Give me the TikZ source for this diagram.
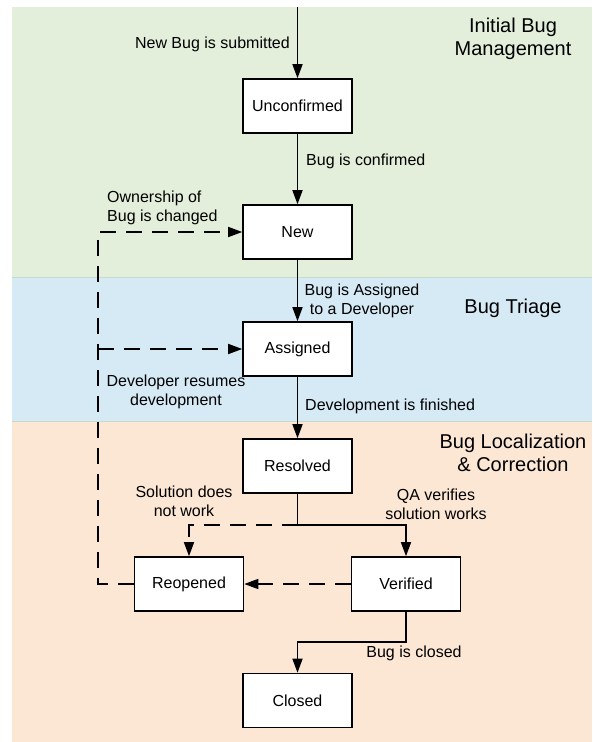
\documentclass[tikz,border=0pt]{standalone}
\usepackage{fontspec}
\setmainfont{Liberation Sans}
\usetikzlibrary{arrows.meta}
\definecolor{bandgreen}{RGB}{227,239,218}
\definecolor{bandblue}{RGB}{214,234,246}
\definecolor{bandorange}{RGB}{251,231,212}
\definecolor{bandedge}{RGB}{195,220,205}
\begin{document}
\begin{tikzpicture}[x=1pt,y=-1pt,
  state/.style={draw, line width=1.6pt, fill=white, minimum width=109pt, minimum height=54pt, inner sep=0pt, font=\fontsize{16}{18}\selectfont},
  lbl/.style={font=\fontsize{16}{19}\selectfont, inner sep=0pt, align=center},
  ttl/.style={font=\fontsize{20}{23}\selectfont, inner sep=0pt, align=center},
  flow/.style={line width=1.6pt, -{Triangle[length=14pt,width=10pt]}},
  loopback/.style={flow, dash pattern=on 16pt off 10pt}]
\useasboundingbox (0,0) rectangle (592,742);
\fill[bandgreen] (12,7) rectangle (592,277);
\fill[bandblue] (12,277) rectangle (592,421);
\fill[bandorange] (12,421) rectangle (592,742);
\draw[bandedge, line width=0.8pt] (12,277) -- (592,277);
\draw[bandedge, line width=0.8pt] (12,421) -- (592,421);

\node[ttl] (t1) at (513,38.5) {Initial Bug\\Management};
\node[ttl] (t2) at (513,308) {Bug Triage};
\node[ttl] (t3) at (513,452.5) {Bug Localization\\\& Correction};

\node[state] (unc) at (297.5,106) {Unconfirmed};
\node[state] (new) at (297.5,232) {New};
\node[state] (ass) at (297.5,349) {Assigned};
\node[state] (res) at (297.5,466) {Resolved};
\node[state] (reo) at (189,584) {Reopened};
\node[state] (ver) at (406,584) {Verified};
\node[state] (clo) at (297.5,700.5) {Closed};

\node[lbl, anchor=east] (l1) at (290,44) {New Bug is submitted};
\node[lbl, anchor=west] (l2) at (306,161) {Bug is confirmed};
\node[lbl, anchor=west, align=left] (l3) at (107,208) {Ownership of\\Bug is changed};
\node[lbl] (l4) at (362,300.5) {Bug is Assigned\\to a Developer};
\node[lbl] (l5) at (176,391.5) {Developer resumes\\development};
\node[lbl, anchor=west] (l6) at (305,406) {Development is finished};
\node[lbl] (l7) at (184,501) {Solution does\\not work};
\node[lbl] (l8) at (436,504.5) {QA verifies\\solution works};
\node[lbl] (l9) at (414,653) {Bug is closed};

\coordinate (top) at (297.5,7);
\coordinate (j) at (297.5,525);
\coordinate (lx) at (98,584);
\coordinate (lb) at (98,349);
\coordinate (k) at (406,642);

\draw[flow] (top) -- (unc.north);
\draw[flow] (unc.south) -- (new.north);
\draw[flow] (new.south) -- (ass.north);
\draw[flow] (ass.south) -- (res.north);
\draw[line width=1.6pt] (res.south) -- (j);
\draw[flow] (j) -| (ver.north);
\draw[loopback] (j) -| (reo.north);
\draw[loopback] (ver.west) -- (reo.east);
\draw[loopback] (reo.west) -- (lx) |- (new.west);
\draw[loopback] (lb) -- (ass.west);
\draw[flow] (ver.south) -- (k) -| (clo.north);
\end{tikzpicture}
\end{document}
